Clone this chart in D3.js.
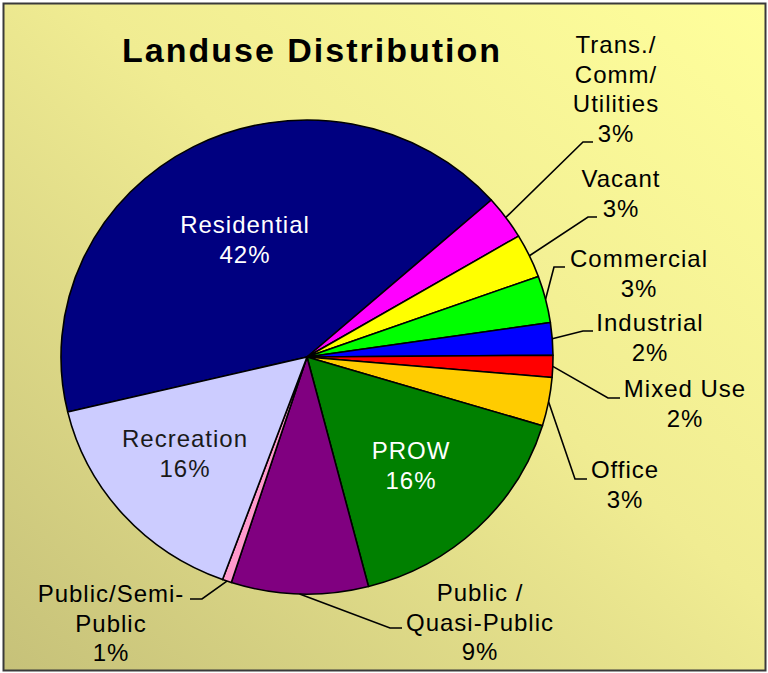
<!DOCTYPE html>
<html>
<head>
<meta charset="utf-8">
<script src="https://cdn.jsdelivr.net/npm/d3@7"></script>
<style>
  html, body { margin: 0; padding: 0; background: #ffffff; }
  svg { display: block; }
</style>
</head>
<body>
<div id="chart"></div>
<script>
// Data (percent of land area)
const categories = [
  "Residential", "Trans./Comm/Utilities", "Vacant", "Commercial", "Industrial",
  "Mixed Use", "Office", "PROW", "Public / Quasi-Public", "Public/Semi-Public", "Recreation",
];
const values = [42.2, 3.0, 3.0, 3.2, 2.2, 1.5, 3.3, 16.3, 9.0, 0.6, 15.7];
const labelLines = [
  ["Residential"], ["Trans./", "Comm/", "Utilities"], ["Vacant"], ["Commercial"], ["Industrial"],
  ["Mixed Use"], ["Office"], ["PROW"], ["Public /", "Quasi-Public"], ["Public/Semi-", "Public"], ["Recreation"],
];
const colors = [
  "#000080", "#ff00ff", "#ffff00", "#00ff00", "#0000ff",
  "#ff0000", "#ffcc00", "#008000", "#800080", "#ff99cc", "#ccccff",
];

// Label layout: centre x, first baseline, and (for outside labels) leader elbow / end
const labelLayout = {
  "Residential":            { x: 245, y: 233, fill: "#ffffff" },
  "Trans./Comm/Utilities":  { x: 616, y: 53,  elbow: [583, 142], end: 593 },
  "Vacant":                 { x: 621, y: 187, elbow: [588, 217], end: 597 },
  "Commercial":             { x: 639, y: 267, elbow: [554, 267], end: 565 },
  "Industrial":             { x: 650, y: 331, elbow: [583, 331], end: 593 },
  "Mixed Use":              { x: 685, y: 397, elbow: [608, 398], end: 620 },
  "Office":                 { x: 625, y: 478, elbow: [575, 479], end: 587 },
  "PROW":                   { x: 411, y: 459, fill: "#ffffff" },
  "Public / Quasi-Public":  { x: 480, y: 601, elbow: [390, 628], end: 402 },
  "Public/Semi-Public":     { x: 111, y: 602, elbow: [202, 599], end: 190 },
  "Recreation":             { x: 185, y: 447, fill: "#1a1a1a" },
};

const width = 768;
const height = 673;
const cx = 307, cy = 357;
const radius = 246;
const squash = 237 / 246; // the pie in the picture is a little flatter than round
const lineHeight = 29.5;

const svg = d3
  .select("#chart")
  .append("svg")
  .attr("width", width)
  .attr("height", height)
  .attr("viewBox", `0 0 ${width} ${height}`)
  .style("font-family", "'Liberation Sans', Arial, sans-serif");

// Background gradient (light at top right, olive at bottom left)
const grad = svg
  .append("defs")
  .append("linearGradient")
  .attr("id", "bg")
  .attr("x1", "100%").attr("y1", "0%")
  .attr("x2", "0%").attr("y2", "100%");
grad.append("stop").attr("offset", "0%").attr("stop-color", "#ffff9c");
grad.append("stop").attr("offset", "45%").attr("stop-color", "#f0ec92");
grad.append("stop").attr("offset", "100%").attr("stop-color", "#c6c179");

svg
  .append("rect")
  .attr("x", 3.5)
  .attr("y", 3.5)
  .attr("width", 762)
  .attr("height", 667)
  .attr("fill", "url(#bg)")
  .attr("stroke", "#3a3a3a")
  .attr("stroke-width", 2);

// Title
svg
  .append("text")
  .attr("x", 312)
  .attr("y", 62)
  .attr("text-anchor", "middle")
  .attr("font-size", 34)
  .attr("font-weight", "700")
  .attr("letter-spacing", 2)
  .attr("fill", "#000")
  .text("Landuse Distribution");

const data = categories.map((c, i) => ({ name: c, value: values[i], color: colors[i], lines: labelLines[i] }));

const startAngle = (256.6 * Math.PI) / 180;
const pie = d3
  .pie()
  .sort(null)
  .value((d) => d.value)
  .startAngle(startAngle)
  .endAngle(startAngle + 2 * Math.PI);

const arcs = pie(data);
const arc = d3.arc().innerRadius(0).outerRadius(radius);
const rimArc = d3.arc().innerRadius(radius).outerRadius(radius);

const pieG = svg
  .append("g")
  .attr("transform", `translate(${cx},${cy}) scale(1,${squash})`);

pieG
  .selectAll("path")
  .data(arcs)
  .join("path")
  .attr("d", arc)
  .attr("fill", (d) => d.data.color)
  .attr("stroke", "#000")
  .attr("stroke-width", 1.6)
  .attr("stroke-linejoin", "round");

// Leader lines: from the middle of the slice's rim to the label
const leaders = svg.append("g").attr("class", "leaders");
arcs.forEach((d) => {
  const lay = labelLayout[d.data.name];
  if (!lay.elbow) return;
  const [rx, ry] = rimArc.centroid(d);
  const start = [cx + rx, cy + ry * squash];
  const pts = [start, lay.elbow, [lay.end, lay.elbow[1]]];
  leaders
    .append("path")
    .attr("d", d3.line()(pts))
    .attr("fill", "none")
    .attr("stroke", "#000")
    .attr("stroke-width", 1.6);
});

// Labels
const labels = svg
  .append("g")
  .attr("class", "labels")
  .selectAll("text")
  .data(arcs)
  .join("text")
  .attr("text-anchor", "middle")
  .attr("font-size", 24)
  .attr("letter-spacing", 1)
  .attr("fill", (d) => labelLayout[d.data.name].fill || "#000");

labels.each(function (d) {
  const lay = labelLayout[d.data.name];
  const lines = d.data.lines.concat([Math.round(d.data.value) + "%"]);
  d3.select(this)
    .selectAll("tspan")
    .data(lines)
    .join("tspan")
    .attr("x", lay.x)
    .attr("y", (_, i) => lay.y + i * lineHeight)
    .text((t) => t);
});
</script>
</body>
</html>
